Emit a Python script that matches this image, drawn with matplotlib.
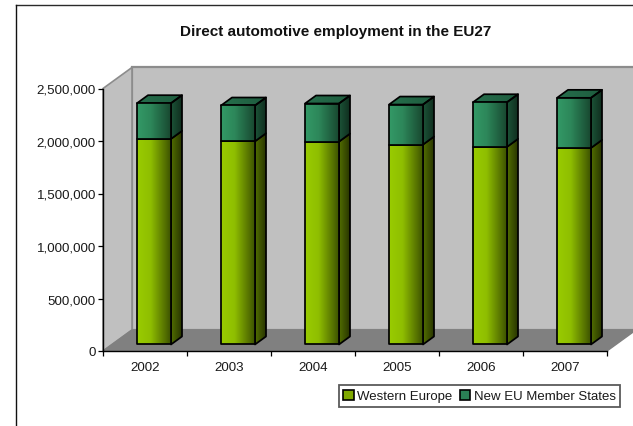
import matplotlib
matplotlib.use("Agg")
import matplotlib.pyplot as plt
import numpy as np
from matplotlib.lines import Line2D
from matplotlib.patches import Patch, Polygon
from matplotlib.ticker import FuncFormatter

plt.rcParams["font.family"] = ["Liberation Sans", "DejaVu Sans"]

years = ["2002", "2003", "2004", "2005", "2006", "2007"]
western_europe = [1958000, 1935000, 1932000, 1904000, 1882000, 1872000]
new_member_states = [340000, 341000, 363000, 381000, 425000, 477000]

W, H = 633, 427
YMAX = 2500000
# floor depth of the fake 3d box, in categories and in value units
DEPTH_X = 29 / 84
DEPTH_Y = YMAX * 21 / 262
BAR_WIDTH = 34 / 84
BAR_FRONT, BAR_BACK = 0.31, 0.69

WALL = "#c0c0c0"
FLOOR = "#808080"
EDGE = "#8c8c8c"


def proj(x, v, d):
    return x + d * DEPTH_X, v + d * DEPTH_Y


def gradient(stops):
    pos = np.linspace(0, 1, 64)
    rgb = [np.interp(pos, [s[0] for s in stops], [s[1][i] for s in stops]) for i in range(3)]
    return np.dstack(rgb).reshape(1, 64, 3) / 255


def shade(ax, pts, stops, z):
    # horizontal gradient clipped to a polygon
    xs, ys = zip(*pts)
    im = ax.imshow(gradient(stops), extent=(min(xs), max(xs), min(ys), max(ys)),
                   aspect="auto", zorder=z, interpolation="bilinear")
    im.set_clip_path(Polygon(pts, transform=ax.transData))
    ax.add_patch(Polygon(pts, closed=True, fill=False, edgecolor="black", lw=1.25,
                         joinstyle="round", zorder=z + 0.1, clip_on=False))


def box(ax, x0, v0, v1, front, side, top, z):
    x1 = x0 + BAR_WIDTH
    f = [proj(x0, v0, BAR_FRONT), proj(x1, v0, BAR_FRONT),
         proj(x1, v1, BAR_FRONT), proj(x0, v1, BAR_FRONT)]
    s = [proj(x1, v0, BAR_FRONT), proj(x1, v0, BAR_BACK),
         proj(x1, v1, BAR_BACK), proj(x1, v1, BAR_FRONT)]
    t = [proj(x0, v1, BAR_FRONT), proj(x1, v1, BAR_FRONT),
         proj(x1, v1, BAR_BACK), proj(x0, v1, BAR_BACK)]
    shade(ax, s, side, z)
    if top is not None:
        shade(ax, t, top, z)
    shade(ax, f, front, z + 0.2)


fig = plt.figure(figsize=(W / 100, H / 100), dpi=100, facecolor="white")
ax = fig.add_axes([103 / W, 1 - 352 / H, 504 / W, 262.5 / H])
ax.patch.set_visible(False)

n = len(years)

# back wall, side wall and floor
ax.add_patch(Polygon([proj(0, 0, 1), proj(n, 0, 1), proj(n, YMAX, 1), proj(0, YMAX, 1)],
                     facecolor=WALL, edgecolor=EDGE, lw=1.6, zorder=1, clip_on=False))
ax.add_patch(Polygon([proj(0, 0, 0), proj(0, 0, 1), proj(0, YMAX, 1), proj(0, YMAX, 0)],
                     facecolor=WALL, edgecolor=EDGE, lw=1.2, zorder=1, clip_on=False))
ax.add_patch(Polygon([proj(0, 0, 0), proj(n, 0, 0), proj(n, 0, 1), proj(0, 0, 1)],
                     facecolor=FLOOR, edgecolor=FLOOR, lw=1.0, zorder=2, clip_on=False))

green_front = [(0, (153, 204, 0)), (0.4, (143, 190, 0)), (1, (62, 83, 0))]
green_side = [(0, (82, 110, 0)), (1, (36, 48, 0))]
teal_front = [(0, (51, 153, 102)), (0.4, (45, 135, 90)), (1, (24, 72, 48))]
teal_side = [(0, (28, 84, 56)), (1, (14, 42, 28))]
teal_top = [(0, (38, 110, 76)), (1, (30, 92, 62))]

for i in range(n):
    x0 = i + 0.5 - BAR_WIDTH / 2
    base = western_europe[i]
    total = base + new_member_states[i]
    z = 3 + i
    box(ax, x0, 0, base, green_front, green_side, None, z)
    box(ax, x0, base, total, teal_front, teal_side, teal_top, z + 0.4)

ax.set_xlim(0, n)
ax.set_ylim(0, YMAX)
for name in ("top", "right"):
    ax.spines[name].set_visible(False)
for name in ("left", "bottom"):
    ax.spines[name].set_linewidth(1.0)
    ax.spines[name].set_zorder(20)

ax.set_xticks(np.arange(n + 1))
ax.set_xticks(np.arange(n) + 0.5, labels=years, minor=True)
ax.set_xticklabels([])
ax.tick_params(axis="x", which="major", length=3.6, width=0.9)
ax.tick_params(axis="x", which="minor", length=0, labelsize=9.6, pad=7.2, labelcolor="#1a1a1a")
ax.set_yticks(np.arange(0, YMAX + 1, 500000))
ax.yaxis.set_major_formatter(FuncFormatter(lambda v, _: f"{int(v):,}"))
ax.tick_params(axis="y", length=3.6, width=0.9, labelsize=9.6, pad=1.5, labelcolor="#1a1a1a")

fig.text(336 / W, 1 - 32 / H, "Direct automotive employment in the EU27",
         ha="center", va="center", fontsize=10.95, fontweight="bold", color="#111111")

# outer chart frame, only its top and left sides fall inside the canvas
fig.add_artist(Line2D([15.5 / W, 1], [1 - 5.5 / H, 1 - 5.5 / H], color="#2a2a2a", lw=1.0))
fig.add_artist(Line2D([15.5 / W, 15.5 / W], [0, 1 - 5.5 / H], color="#111111", lw=1.0))

handles = [Patch(facecolor="#7fa800", edgecolor="black", lw=1.2),
           Patch(facecolor="#2a7f55", edgecolor="black", lw=1.2)]
leg = fig.legend(handles, ["Western Europe", "New EU Member States"],
                 ncol=2, loc="center", bbox_to_anchor=(479.5 / W, 1 - 397 / H),
                 fontsize=9.5, fancybox=False, framealpha=1, edgecolor="#5a5a5a",
                 handlelength=0.8, handleheight=0.8, handletextpad=0.25,
                 columnspacing=0.55, borderpad=0.32, borderaxespad=0)
leg.get_frame().set_linewidth(1.3)
for text in leg.get_texts():
    text.set_color("#1a1a1a")

fig.savefig("out.png", dpi=100)
